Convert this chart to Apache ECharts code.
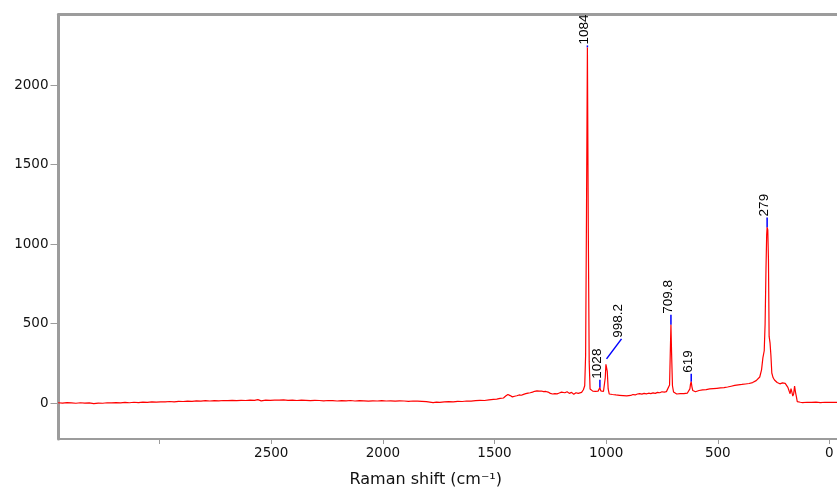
<!DOCTYPE html>
<html>
<head>
<meta charset="utf-8">
<title>Raman spectrum</title>
<script src="https://cdn.jsdelivr.net/npm/echarts@6/dist/echarts.min.js"></script>
<style>
  html, body { margin: 0; padding: 0; background: #ffffff; }
  #chart { width: 837px; height: 493px; }
</style>
</head>
<body>
<div id="chart"></div>
<script>
// Raman spectrum: [shift (cm-1), intensity]
const spectrum = [
  [3455,3],[3435,1],[3415,4],[3395,2],[3375,0],[3355,3],[3335,1],[3315,2],[3295,-2],[3275,1],
  [3255,0],[3235,3],[3215,2],[3195,4],[3175,2],[3155,5],[3135,3],[3115,6],[3095,4],[3075,7],
  [3055,5],[3035,8],[3015,7],[2995,9],[2975,8],[2955,11],[2935,9],[2915,12],[2895,11],[2875,13],
  [2855,12],[2835,15],[2815,13],[2795,16],[2775,14],[2755,16],[2735,15],[2715,17],[2695,16],[2675,18],
  [2655,16],[2635,18],[2615,17],[2595,20],[2575,18],[2560,23],[2545,15],[2525,19],[2505,18],[2485,20],
  [2465,19],[2445,21],[2425,18],[2405,19],[2385,17],[2365,19],[2345,18],[2325,16],[2305,18],[2285,17],
  [2265,15],[2245,17],[2225,16],[2205,14],[2185,16],[2165,15],[2145,17],[2125,14],[2105,16],[2085,15],
  [2065,13],[2045,15],[2025,14],[2005,16],[1985,14],[1965,15],[1945,13],[1925,15],[1905,14],[1885,12],
  [1865,14],[1845,13],[1825,12],[1805,10],[1790,7],[1775,4],[1760,7],[1745,5],[1725,8],[1705,10],
  [1685,9],[1665,12],[1645,11],[1625,14],[1605,13],[1585,16],[1565,18],[1545,17],[1525,21],[1505,24],
  [1490,26],[1475,30],[1460,33],[1450,45],[1440,55],[1430,48],[1420,40],[1410,44],[1400,47],[1390,52],
  [1380,50],[1370,56],[1360,60],[1350,64],[1340,66],[1330,70],[1320,75],[1310,78],[1300,76],[1290,77],
  [1280,73],[1270,74],[1260,70],[1250,62],[1240,58],[1230,60],[1220,59],[1210,64],[1200,70],[1195,75],
  [1185,66],[1175,72],[1165,62],[1155,68],[1145,56],[1135,66],[1125,62],[1118,72],[1110,68],[1102,85],
  [1096,110],[1092,300],[1088,1200],[1084,2238],[1080,1100],[1076,260],[1072,90],[1066,80],[1060,76],[1054,72],
  [1048,75],[1042,70],[1036,76],[1032,82],[1028,98],[1024,78],[1018,70],[1012,74],[1008,82],[1004,160],
  [1001,245],[998.2,254],[995,200],[991,90],[986,58],[980,52],[972,55],[964,48],[956,52],[948,46],
  [940,50],[932,44],[924,48],[916,50],[908,46],[900,52],[890,49],[880,55],[870,52],[860,58],
  [850,60],[840,57],[830,62],[820,59],[810,63],[800,60],[790,65],[780,62],[770,68],[760,66],
  [750,72],[740,70],[730,73],[722,75],[716,115],[713,300],[709.8,493],[707,320],[703,110],[698,70],
  [692,60],[684,58],[676,62],[668,60],[660,62],[652,60],[644,63],[636,64],[630,70],[625,90],
  [622,122],[619,135],[616,105],[612,80],[606,70],[600,72],[592,76],[584,80],[576,78],[568,84],
  [560,82],[552,86],[544,84],[536,90],[528,87],[520,92],[512,88],[504,94],[496,91],[488,96],
  [480,93],[472,98],[464,95],[456,102],[448,99],[440,107],[432,104],[424,112],[416,108],[408,116],
  [400,110],[392,118],[384,113],[376,121],[368,117],[360,124],[352,120],[344,130],[336,135],[328,142],
  [320,150],[312,165],[304,210],[298,285],[292,330],[288,500],[284,850],[281,1060],[279,1106],[276,1090],
  [273,900],[270,420],[266,380],[262,300],[258,190],[252,160],[246,146],[240,138],[234,130],[228,126],
  [222,122],[216,130],[210,128],[204,136],[198,125],[192,118],[186,100],[180,75],[176,60],[172,92],
  [168,70],[164,45],[160,60],[156,108],[152,70],[148,42],[144,10],[140,5],[130,6],[120,4],
  [100,6],[80,5],[60,7],[40,4],[20,6],[0,5],[-20,6],[-35,5]
];

// Annotated peak positions and their label texts
const peakShifts = [1084, 1028, 998.2, 709.8, 619, 279];
const peakLabels = ['1084', '1028', '998.2', '709.8', '619', '279'];

// Axis ticks
const xTickValues = [0, 500, 1000, 1500, 2000, 2500, 3000];
const xLabelValues = [0, 500, 1000, 1500, 2000, 2500];
const yTickValues = [0, 500, 1000, 1500, 2000];

// Leader geometry for each annotation, in pixels: gap above the peak, vertical rise, sideways run
const leaderGap  = [0, 0, 4, 0, 0, 0];
const leaderRise = [2, 8, 20, 10, 8, 10];
const leaderRun  = [0, 0, 15, 0, 0, 0];

const peakData = peakShifts.map(function (s, i) {
  const pt = spectrum.find(function (p) { return p[0] === s; });
  return [s, pt ? pt[1] : 0, i];
});

const X_MIN = -34, X_MAX = 3453;
const Y_MIN = -225, Y_MAX = 2445;
const axisGray = '#9c9c9c';
const tickFont = 'DejaVu Sans';
const plainNumber = function (v) { return String(v); };

const chart = echarts.init(document.getElementById('chart'), null, { renderer: 'canvas' });

chart.setOption({
  animation: false,
  backgroundColor: '#ffffff',
  grid: { left: 58.5, right: 0, top: 14.5, bottom: 50.5, containLabel: false },
  xAxis: [
    {
      type: 'value',
      inverse: true,
      min: X_MIN,
      max: X_MAX,
      position: 'bottom',
      name: 'Raman shift (cm\u207B\u00B9)',
      nameLocation: 'middle',
      nameGap: 33,
      nameTextStyle: {
        fontFamily: tickFont, fontSize: 16, color: '#111',
        padding: [0, 44, 0, 0]
      },
      axisLine: { show: true, onZero: false, lineStyle: { color: axisGray, width: 2 } },
      axisTick: { show: true, length: 5, customValues: xTickValues, lineStyle: { color: axisGray, width: 1 } },
      axisLabel: {
        show: true, customValues: xLabelValues, margin: 7, formatter: plainNumber,
        fontFamily: tickFont, fontSize: 13.5, color: '#111'
      },
      splitLine: { show: false }
    },
    {
      type: 'value',
      inverse: true,
      min: X_MIN,
      max: X_MAX,
      position: 'top',
      axisLine: { show: true, onZero: false, lineStyle: { color: axisGray, width: 3 } },
      axisTick: { show: false },
      axisLabel: { show: false },
      splitLine: { show: false }
    }
  ],
  yAxis: {
    type: 'value',
    min: Y_MIN,
    max: Y_MAX,
    axisLine: { show: true, onZero: false, lineStyle: { color: axisGray, width: 3 } },
    axisTick: { show: true, length: 8, customValues: yTickValues, lineStyle: { color: axisGray, width: 1 } },
    axisLabel: {
      show: true, customValues: yTickValues, margin: 10, formatter: plainNumber,
      fontFamily: tickFont, fontSize: 13.5, color: '#111'
    },
    splitLine: { show: false }
  },
  series: [
    {
      type: 'custom',
      xAxisIndex: 0,
      yAxisIndex: 0,
      clip: false,
      z: 1,
      data: peakData,
      encode: { x: 0, y: 1 },
      renderItem: function (params, api) {
        const i = api.value(2);
        const p = api.coord([api.value(0), api.value(1)]);
        const x0 = p[0];
        const y0 = p[1] - leaderGap[i];
        const x1 = x0 + leaderRun[i];
        const y1 = y0 - leaderRise[i];
        return {
          type: 'group',
          children: [
            {
              type: 'line',
              shape: { x1: x0, y1: y0, x2: x1, y2: y1 },
              style: { stroke: '#0000ff', lineWidth: 1.5 }
            },
            {
              type: 'text',
              x: x1 - 3,
              y: y1 - 1,
              rotation: Math.PI / 2,
              style: {
                text: peakLabels[i],
                fontFamily: 'Liberation Sans',
                fontSize: 13.5,
                fill: '#000',
                align: 'left',
                verticalAlign: 'middle'
              }
            }
          ]
        };
      }
    },
    {
      type: 'line',
      xAxisIndex: 0,
      yAxisIndex: 0,
      data: spectrum,
      showSymbol: false,
      symbol: 'none',
      z: 2,
      lineStyle: { color: '#ff0000', width: 1.2 }
    }
  ]
});
</script>
</body>
</html>
